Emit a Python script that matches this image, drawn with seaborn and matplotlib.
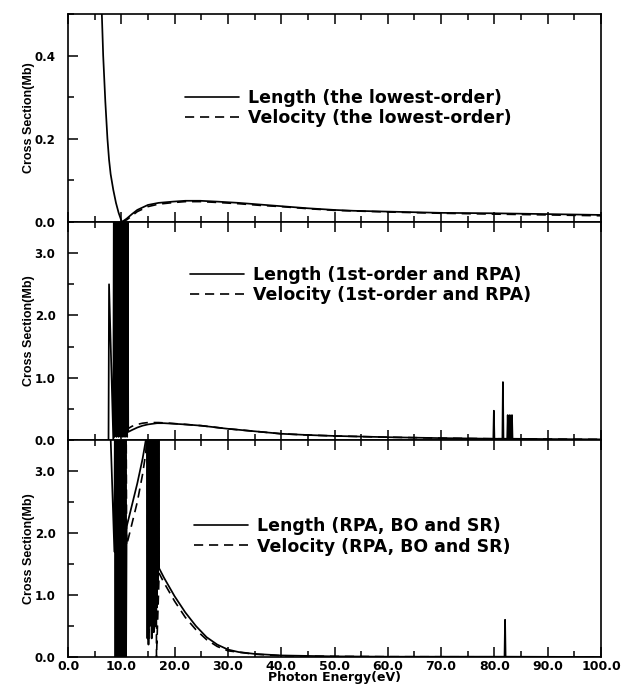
import numpy as np
import pandas as pd
import matplotlib
matplotlib.use("Agg")
import matplotlib.pyplot as plt
from matplotlib.lines import Line2D
from matplotlib.ticker import MultipleLocator, FormatStrFormatter
import seaborn as sns

# ---------------- data ----------------
# Panel 1: lowest order
top_len_x = [6.3, 6.6, 7.0, 7.4, 7.7, 8.0, 8.5, 9.0, 9.5, 10.1, 11.0, 12.0, 13.0, 15.0, 17.0,
             19.7, 22.0, 24.8, 28.0, 32.0, 36.0, 40.0, 45.0, 50.0, 53.5, 60.0, 70.0, 79.7, 90.0, 100.0]
top_len_y = [0.52, 0.40, 0.29, 0.20, 0.15, 0.115, 0.077, 0.046, 0.022, 0.0, 0.008, 0.019, 0.029, 0.041, 0.046,
             0.049, 0.051, 0.051, 0.049, 0.046, 0.042, 0.038, 0.033, 0.029, 0.027, 0.025, 0.022, 0.021, 0.019, 0.017]
top_vel_x = [10.1, 11.0, 12.0, 13.0, 15.0, 17.0, 20.0, 22.0, 25.0, 28.0, 32.0, 36.0, 40.0, 45.0, 50.0,
             60.0, 70.0, 80.0, 90.0, 100.0]
top_vel_y = [0.0, 0.005, 0.015, 0.025, 0.037, 0.043, 0.047, 0.049, 0.049, 0.047, 0.044, 0.040, 0.037, 0.032, 0.028,
             0.024, 0.021, 0.019, 0.017, 0.015]

# Panel 2: 1st-order and RPA
mid_len_x = [7.6, 7.7, 8.5,
             8.6, 8.7, 8.8, 8.9, 9.0, 9.1, 9.2, 9.3, 9.4, 9.5, 9.6, 9.7, 9.8, 9.9, 10.0,
             10.1, 10.2, 10.3, 10.4, 10.5, 10.6, 10.7, 10.8, 10.9, 11.0, 11.1, 11.2,
             11.3, 12.0, 13.0, 14.0, 15.0, 16.7, 18.0, 20.0, 22.0, 25.0, 28.0, 30.0, 35.0, 40.0,
             45.0, 50.0, 55.0, 60.0, 70.0, 79.8,
             79.9, 80.0, 81.5, 81.6, 81.7, 82.4, 82.5, 82.6, 82.8, 82.9, 83.0, 83.2, 83.3, 83.4,
             90.0, 100.0]
mid_len_y = [0.0, 2.5, 0.0,
             4.0, 0.05, 4.0, 0.1, 4.0, 0.05, 4.0, 0.1, 4.0, 0.05, 4.0, 0.1, 4.0, 0.05, 4.0,
             0.1, 4.0, 0.05, 4.0, 0.1, 4.0, 0.05, 4.0, 0.1, 4.0, 0.05, 4.0,
             0.13, 0.16, 0.20, 0.23, 0.25, 0.27, 0.27, 0.26, 0.25, 0.23, 0.20, 0.18, 0.14, 0.10,
             0.08, 0.065, 0.055, 0.045, 0.03, 0.02,
             0.47, 0.02, 0.02, 0.93, 0.02, 0.02, 0.40, 0.02, 0.02, 0.40, 0.02, 0.02, 0.40, 0.02,
             0.015, 0.01]
mid_vel_x = [8.6, 8.7, 8.8, 8.9, 9.0, 9.1, 9.2, 9.3, 9.4, 9.5, 9.6, 9.7, 9.8, 9.9, 10.0,
             10.1, 10.2, 10.3, 10.4, 10.5, 10.6, 10.7, 10.8, 10.9, 11.0, 11.1,
             11.2, 12.0, 13.0, 14.0, 15.0, 17.0, 19.0, 22.0, 25.0, 28.0, 30.0, 35.0, 40.0, 45.0,
             50.0, 55.0, 60.0, 70.0, 80.0, 90.0, 100.0]
mid_vel_y = [4.0, 0.1, 4.0, 0.1, 4.0, 0.1, 4.0, 0.1, 4.0, 0.1, 4.0, 0.1, 4.0, 0.1, 4.0,
             0.1, 4.0, 0.1, 4.0, 0.1, 4.0, 0.1, 4.0, 0.1, 4.0, 0.1,
             0.18, 0.22, 0.25, 0.27, 0.28, 0.28, 0.27, 0.25, 0.23, 0.20, 0.18, 0.14, 0.10, 0.08,
             0.065, 0.055, 0.045, 0.03, 0.02, 0.015, 0.01]

# Panel 3: RPA, BO and SR
bot_len_x = [7.9, 8.7,
             8.8, 8.9, 9.0, 9.1, 9.2, 9.3, 9.4, 9.5, 9.6, 9.7, 9.8,
             9.9, 10.0, 10.1, 10.2, 10.3, 10.4, 10.5, 10.6, 10.7, 10.8, 10.9,
             11.0, 12.0, 13.0, 14.0, 14.6, 14.8,
             14.9, 15.0, 15.1, 15.2, 15.3, 15.4, 15.5, 15.6, 15.7, 15.8, 15.9,
             16.0, 16.1, 16.2, 16.3, 16.4, 16.5, 16.6, 16.7, 16.8, 16.9, 17.0,
             17.1, 18.0, 19.0, 20.0, 22.0, 24.0, 26.0, 28.0, 30.0, 32.0, 35.0, 40.0, 50.0, 60.0,
             81.9, 82.0, 82.1, 100.0]
bot_len_y = [3.8, 1.7,
             4.0, 0.0, 4.0, 1.0, 4.0, 0.0, 4.0, 1.6, 4.0, 0.0, 4.0,
             0.9, 4.0, 0.0, 4.0, 1.7, 4.0, 0.0, 4.0, 1.0, 4.0, 0.0,
             2.1, 2.45, 2.8, 3.2, 3.5, 3.7,
             0.3, 4.0, 0.2, 4.0, 0.5, 4.0, 0.9, 4.0, 0.3, 4.0, 0.6,
             4.0, 0.4, 4.0, 1.0, 4.0, 0.5, 4.0, 0.8, 4.0, 1.2, 4.0,
             1.43, 1.28, 1.13, 0.98, 0.72, 0.50, 0.32, 0.20, 0.12, 0.08, 0.05, 0.025, 0.01, 0.005,
             0.005, 0.6, 0.005, 0.0]
bot_vel_x = [8.9, 9.0, 9.1, 9.2, 9.3, 9.4, 9.5, 9.6, 9.7, 9.8, 9.9,
             10.0, 10.1, 10.2, 10.3, 10.4, 10.5, 10.6, 10.7, 10.8, 10.9,
             11.0, 12.0, 13.0, 14.0, 14.6,
             14.9, 15.0, 15.1, 15.2, 15.3, 15.4, 15.5, 15.6, 15.7, 15.8, 15.9,
             16.0, 16.1, 16.2, 16.3, 16.4, 16.5,
             16.6, 17.1, 18.0, 19.0, 20.0, 22.0, 24.0, 26.0, 28.0, 30.0, 35.0, 40.0, 50.0, 60.0, 100.0]
bot_vel_y = [4.0, 0.2, 4.0, 1.2, 4.0, 0.1, 4.0, 1.5, 4.0, 0.2, 4.0,
             1.0, 4.0, 0.1, 4.0, 1.6, 4.0, 0.2, 4.0, 0.8, 4.0,
             1.8, 2.15, 2.5, 2.95, 3.3,
             4.0, 0.4, 4.0, 0.3, 4.0, 0.7, 4.0, 0.5, 4.0, 1.0, 4.0,
             0.6, 4.0, 0.9, 4.0, 0.5, 4.0,
             0.0, 1.35, 1.2, 1.05, 0.9, 0.64, 0.44, 0.28, 0.17, 0.1, 0.045, 0.02, 0.01, 0.005, 0.0]

labels = [("Length (the lowest-order)", "Velocity (the lowest-order)"),
          ("Length (1st-order and RPA)", "Velocity (1st-order and RPA)"),
          ("Length (RPA, BO and SR)", "Velocity (RPA, BO and SR)")]
x_label = "Photon Energy(eV)"
y_label = "Cross Section(Mb)"

# ---------------- style ----------------
sns.set_style("ticks")
plt.rcParams['font.family'] = ['DejaVu Sans']
plt.rcParams['axes.linewidth'] = 1.2
for k in ['text.color', 'axes.labelcolor', 'xtick.color', 'ytick.color',
          'xtick.labelcolor', 'ytick.labelcolor', 'axes.edgecolor']:
    plt.rcParams[k] = 'black'

DASH = (0, (5.5, 3.5))

fig = plt.figure(figsize=(6.21, 6.85), dpi=100)
gs = fig.add_gridspec(3, 1, height_ratios=[208, 218, 217], hspace=0,
                      left=68 / 621, right=601 / 621, bottom=28 / 685, top=1 - 14 / 685)
axes = [fig.add_subplot(gs[i]) for i in range(3)]

series = [(top_len_x, top_len_y, top_vel_x, top_vel_y),
          (mid_len_x, mid_len_y, mid_vel_x, mid_vel_y),
          (bot_len_x, bot_len_y, bot_vel_x, bot_vel_y)]
ylims = [(0, 0.5), (0, 3.5), (0, 3.5)]
ymajor = [0.2, 1.0, 1.0]
yminor = [0.1, 0.5, 0.5]
leg_anchor = [(0.2195, 0.64), (0.229, 0.797), (0.236, 0.643)]

lab_font = dict(family=['Liberation Sans Narrow', 'Liberation Sans', 'DejaVu Sans'],
                weight='bold', size=9, color='black')

for i, ax in enumerate(axes):
    lx, ly, vx, vy = series[i]
    dl = pd.DataFrame({"x": lx, "y": ly})
    dv = pd.DataFrame({"x": vx, "y": vy})
    sns.lineplot(data=dl, x="x", y="y", ax=ax, sort=False, estimator=None,
                 color="black", linewidth=1.25)
    sns.lineplot(data=dv, x="x", y="y", ax=ax, sort=False, estimator=None,
                 color="black", linewidth=1.2, linestyle=DASH)
    ax.set_xlim(0, 100)
    ax.set_ylim(*ylims[i])
    ax.xaxis.set_major_locator(MultipleLocator(10))
    ax.xaxis.set_minor_locator(MultipleLocator(5))
    ax.yaxis.set_major_locator(MultipleLocator(ymajor[i]))
    ax.yaxis.set_minor_locator(MultipleLocator(yminor[i]))
    ax.yaxis.set_major_formatter(FormatStrFormatter("%.1f"))
    ax.xaxis.set_major_formatter(FormatStrFormatter("%.1f"))
    ax.tick_params(axis='both', which='both', direction='in', top=True, right=False,
                   width=1.1, color='black', labelcolor='black')
    ax.tick_params(axis='both', which='major', length=7)
    ax.tick_params(axis='both', which='minor', length=4)
    ax.tick_params(axis='y', which='major', pad=9, labelsize=8.5)
    for t in ax.get_yticklabels():
        t.set_fontweight('bold')
    if i < 2:
        ax.tick_params(axis='x', labelbottom=False)
        ax.set_xlabel("")
    else:
        ax.tick_params(axis='x', which='major', pad=2, labelsize=9)
        for t in ax.get_xticklabels():
            t.set_fontweight('bold')
        ax.set_xlabel(x_label, fontsize=9, fontweight='bold', labelpad=-1, color='black')
    ax.set_ylabel(y_label, fontdict=lab_font)
    ax.yaxis.set_label_coords(-0.062, 0.5)
    for s in ax.spines.values():
        s.set_visible(True)
        s.set_linewidth(1.2)
        s.set_color('black')

    handles = [Line2D([], [], color='black', lw=1.2),
               Line2D([], [], color='black', lw=1.2, linestyle=DASH)]
    ax.legend(handles, list(labels[i]), loc='upper left', bbox_to_anchor=leg_anchor[i],
              frameon=False, borderpad=0, borderaxespad=0, handlelength=3.1,
              handletextpad=0.55, labelspacing=0.12,
              prop=dict(family='DejaVu Sans', weight='bold', size=12.5))

fig.savefig("out.png", dpi=100)
